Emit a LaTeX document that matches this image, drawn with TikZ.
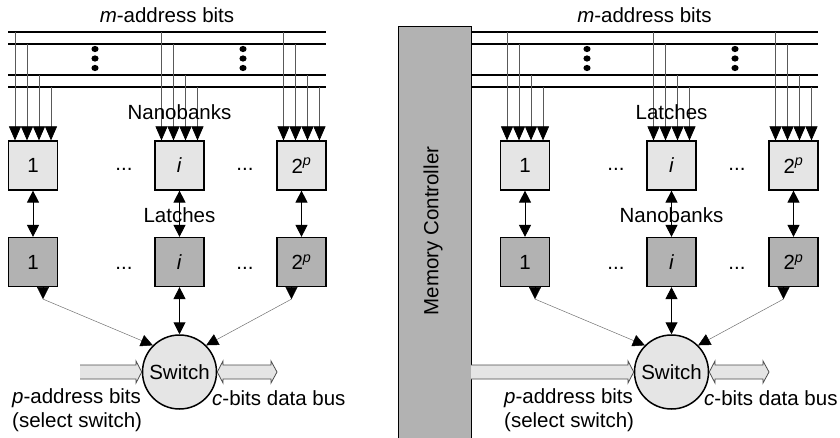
\documentclass[tikz,border=0pt]{standalone}
\usepackage{fontspec}
\setmainfont{Liberation Sans}
\usepackage{tikz}
\usetikzlibrary{positioning}
\usetikzlibrary{shapes,calc,arrows.meta}

\tikzset{
  lbl/.style={font=\fontsize{20.5}{24}\selectfont, inner sep=0pt},
  bank top/.style={lbl, draw, line width=1.2pt, fill=gray!20, minimum size=49pt},
  bank bot/.style={bank top, fill=gray!60},
  bus/.style={line width=1.3pt},
  tap/.style={line width=0.7pt, draw=black!65,
    -{Triangle[length=14pt,width=12pt,color=black,fill=black]}},
  link/.style={line width=1pt,
    {Triangle[length=12pt,width=12pt]}-{Triangle[length=12pt,width=12pt]}},
  drop/.style={-{Triangle[length=12pt,width=12pt]}},
  feed/.style={line width=0.5pt, draw=black!55,
    -{Triangle[length=12pt,width=12pt,color=black,fill=black]}},
  fat/.style={draw=black!70, line width=0.8pt},
}

\begin{document}
\begin{tikzpicture}[x=1pt,y=-1pt]
\useasboundingbox (0,0) rectangle (840,438);

% memory controller (right panel only)
\node[lbl, draw, line width=1.2pt, fill=gray!60, minimum width=73pt, minimum height=420pt,
  anchor=north west] (mc) at (398,26) {};
\node[lbl, rotate=90] (mclabel) at (433,231) {Memory Controller};

\foreach \p/\dx/\xa/\tail/\upper/\lower in
  {L/0/8/80/Nanobanks/Latches, R/492/-21/-21/Latches/Nanobanks} {
\begin{scope}[xshift=\dx pt]
  % address bus
  \node[lbl] (addr\p) at ({(\xa+326)/2},15) {\textit{m}-address bits};
  \foreach \y in {32,44,75,87}
    \draw[bus] (\xa,\y) -- (326,\y);
  \foreach \x in {95,243}
    \foreach \y in {49,58.5,68}
      \fill (\x,\y) ellipse [x radius=3.6pt, y radius=3.1pt];

  % banks
  \foreach \c/\n/\txt in {33/1/1, 179.5/i/\textit{i}, 301.5/n/2\textsuperscript{\textit{p}}} {
    \node[bank top] (t\n\p) at (\c,165.5) {\txt};
    \node[bank bot] (b\n\p) at (\c,262) {\txt};
    \foreach \o/\y in {-18/32,-6/44,6/75,18/87}
      \draw[tap] ({\c+\o},\y) -- ({\c+\o},0 |- t\n\p.north);
    \draw[link] (t\n\p) -- (b\n\p);
  }
  \node[lbl] (up\p) at (179.5,112) {\upper};
  \node[lbl] (low\p) at (179.5,215) {\lower};
  \foreach \x in {124,245} {
    \node[lbl] at (\x,169) {...};
    \node[lbl] at (\x,268) {...};
  }

  % switch
  \node[lbl, circle, draw, line width=1.5pt, fill=gray!20, minimum size=74pt] (sw\p) at (179.5,372) {Switch};
  \draw[link] (bi\p) -- (sw\p);
  \draw[drop] ($(b1\p.south)+(10,0)$) -- ++(0,12) coordinate (d1\p);
  \draw[drop] ($(bn\p.south)+(-10,0)$) -- ++(0,12) coordinate (dn\p);
  \draw[feed] (d1\p) -- (sw\p.135);
  \draw[feed] (dn\p) -- (sw\p.45);

  % p-address input
  \fill[gray!20] (\tail,365) -- (136,365) -- (136,361) -- (sw\p.west) -- (136,383) -- (136,379) -- (\tail,379) -- cycle;
  \draw[fat] (\tail,365) -- (136,365) -- (136,361) -- (sw\p.west) -- (136,383) -- (136,379) -- (\tail,379);
  % c-bits data bus
  \coordinate (bus\p) at (277,372);
  \filldraw[fat, fill=gray!20] (sw\p.east) -- (223,361) -- (223,365) -- (271,365) -- (271,361) -- (bus\p)
    -- (271,383) -- (271,379) -- (223,379) -- (223,383) -- cycle;

  \node[lbl, align=left, anchor=west] (plabel\p) at (12,410) {\textit{p}-address bits\\(select switch)};
  \node[lbl, anchor=west] (clabel\p) at (212,398) {\textit{c}-bits data bus};
\end{scope}
}
\end{tikzpicture}
\end{document}
